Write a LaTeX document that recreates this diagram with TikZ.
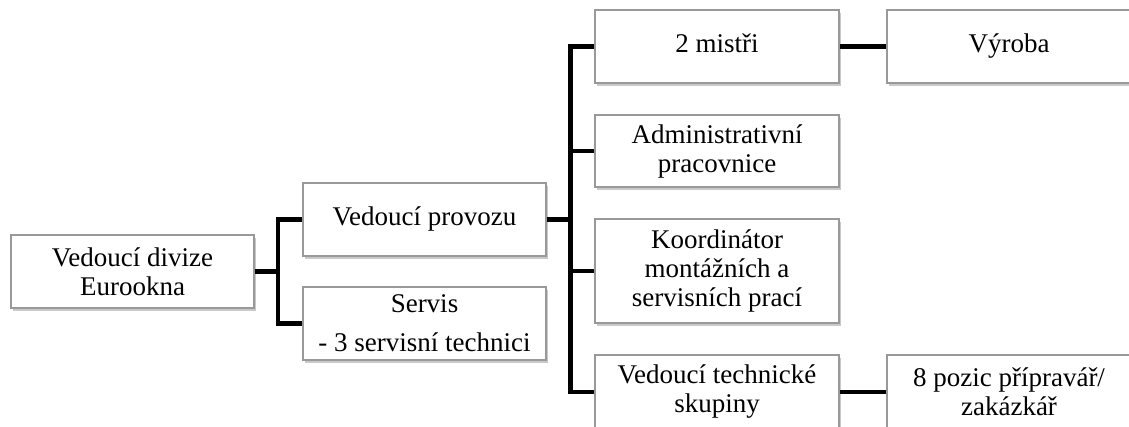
\documentclass[tikz,border=0pt]{standalone}
\usepackage{fontspec}
\setmainfont{Liberation Serif}
\usetikzlibrary{shadows}
\begin{document}
\begin{tikzpicture}[x=1pt,y=-1pt,
  orgbox/.style={draw=black!40, line width=1.1pt, fill=white, align=center,
    inner sep=0pt, minimum width=243pt,
    font=\fontsize{27}{29}\selectfont,
    drop shadow={shadow xshift=1.5pt, shadow yshift=-3pt, opacity=0.35, fill=black!60}},
  oneline/.style={text height=19pt, text depth=6pt},
  link/.style={line width=4.5pt, line join=miter, draw=black}]
\clip (0,0) rectangle (1129,427);
\fill[white] (0,0) rectangle (1129,427);
% boxes
\node[orgbox, minimum height=73pt] (b1) at (132.5,271.5) {Vedoucí divize\\Eurookna};
\node[orgbox, oneline, minimum height=73pt] (prov) at (424.5,219.5) {Vedoucí provozu};
\node[orgbox, minimum height=73pt] (serv) at (424.5,323.5) {Servis\\[10pt]- 3 servisní technici};
\node[orgbox, oneline, minimum width=244pt, minimum height=73pt] (m2) at (717,46.5) {2 mistři};
\node[orgbox, oneline, minimum width=244pt, minimum height=73pt] (vyr) at (1009,46.5) {Výroba};
\node[orgbox, minimum width=244pt, minimum height=72pt] (adm) at (717,151) {Administrativní\\pracovnice};
\node[orgbox, minimum width=244pt, minimum height=104pt] (koo) at (717,271) {Koordinátor\\montážních a\\servisních prací};
\node[orgbox, minimum width=244pt, minimum height=74pt] (vt) at (717,392) {Vedoucí technické\\skupiny};
\node[orgbox, minimum width=244pt, minimum height=74pt] (poz) at (1009,392) {8 pozic přípravář/\\zakázkář};
% junctions
\coordinate (j1) at (278,271.5);
\coordinate (j2) at (570.5,219.5);
% connectors
\draw[link] (b1.east) -- (j1);
\draw[link] (prov.west) -| (j1) |- (serv.west);
\draw[link] (prov.east) -- (j2);
\draw[link] (m2.west) -| (j2) |- (vt.west);
\draw[link] (adm.west) -- (adm.west -| j2);
\draw[link] (koo.west) -- (koo.west -| j2);
\draw[link] (m2.east) -- (vyr.west);
\draw[link] (vt.east) -- (poz.west);
\end{tikzpicture}
\end{document}
